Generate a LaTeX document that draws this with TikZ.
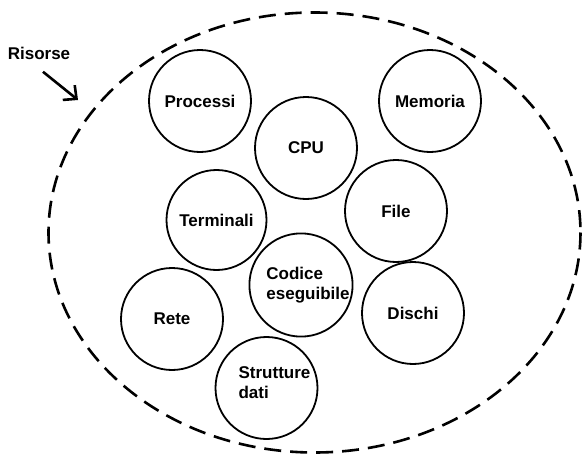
\documentclass[tikz,border=0pt]{standalone}
\usepackage{fontspec}
\setmainfont{Liberation Sans}
\usetikzlibrary{arrows.meta, positioning}

\begin{document}
\begin{tikzpicture}[
        x=1pt, y=-1pt,
        res/.style={circle, draw, line width=1.8pt, minimum size=102pt, inner sep=0pt, align=left, font=\fontsize{17}{20}\selectfont\bfseries},
        arrow/.style={-{Straight Barb[length=10pt, width=19pt]}, line width=2.6pt}
    ]
        \useasboundingbox (0,0) rectangle (582,455);

        % Contenitore
        \draw[line width=2.6pt, dash pattern=on 17pt off 9pt] (314.5,232.5) ellipse [x radius=266, y radius=220];

        % Riga alta
        \node[res] (processi) at (200,101) {Processi};
        \node[res] (memoria) at (430,101) {Memoria};
        \node[res] (cpu) at (306,148) {CPU};

        % Riga centrale
        \node[res, minimum size=100pt] (terminali) at (216.5,220) {Terminali};
        \node[res] (file) at (396,211) {File};
        \node[res, minimum size=98pt] (codice) at (301,285) {\hspace*{14pt}Codice\\\hspace*{14pt}eseguibile};

        % Riga bassa
        \node[res] (rete) at (172,319) {Rete};
        \node[res] (dischi) at (413,313) {Dischi};
        \node[res] (strutture) at (266.5,388) {\hspace*{16pt}Strutture\\\hspace*{16pt}dati\\[-10pt]\mbox{}};

        % Etichetta
        \node[font=\fontsize{17}{20}\selectfont\bfseries] (risorse) at (39,53) {Risorse};
        \coordinate (tip) at (78,100);
        \draw[arrow] ([xshift=4pt, yshift=-9pt]risorse.south) -- (tip);
    \end{tikzpicture}
\end{document}
